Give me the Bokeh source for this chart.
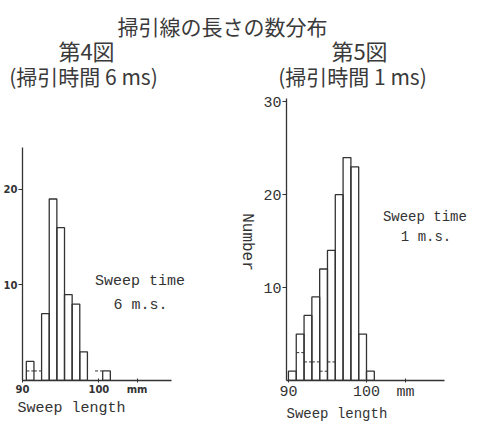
import math
from bokeh.plotting import figure
from bokeh.layouts import column, row
from bokeh.models import Range1d, FixedTicker, Label, Title
from bokeh.embed import file_html
from bokeh.resources import INLINE
from bokeh.core.properties import value

# ---------------- data ----------------
main_title = "掃引線の長さの数分布"
fig4_title = "第4図"
fig4_sub = "(掃引時間 6 ms)"
fig5_title = "第5図"
fig5_sub = "(掃引時間 1 ms)"

# Fig.4  sweep time 6 ms  (1 mm bins, left edges)
f4_bin_left = [90.5, 91.5, 92.5, 93.5, 94.5, 95.5, 96.5, 97.5, 98.5, 99.5, 100.5]
f4_count = [2, 0, 7, 19, 16, 9, 8, 3, 0, 0, 1]
f4_inner = [1, 1, 0, 0, 0, 0, 0, 0, 0, 1, 0]      # dashed sub-counts
# Fig.5  sweep time 1 ms
f5_bin_left = [90, 91, 92, 93, 94, 95, 96, 97, 98, 99, 100]
f5_count = [1, 5, 7, 9, 12, 14, 20, 24, 23, 5, 1]
f5_inner = [0, 3, 2, 2, 1, 2, 0, 0, 0, 0, 0]

f4_yticks = [10, 20]
f5_yticks = [10, 20, 30]
x_ticks = [90, 100, 105]
x_tick_labels = {90: "90", 100: "100", 105: "mm"}

INK = "#333333"
BIN_W = 1.0
MONO = "Liberation Mono"


def base_fig(width, height, xr, yr, mbl):
    p = figure(width=width, height=height, x_range=Range1d(*xr), y_range=Range1d(*yr),
               output_backend="svg", toolbar_location=None,
               min_border_left=mbl, min_border_top=0, min_border_right=0,
               min_border_bottom=0)
    p.grid.visible = False
    p.outline_line_color = None
    p.background_fill_color = "white"
    p.border_fill_color = "white"
    return p


def draw_hist(p, lefts, counts, inner):
    L = [l for l, c in zip(lefts, counts) if c > 0]
    C = [c for c in counts if c > 0]
    p.quad(left=L, right=[l + BIN_W for l in L], bottom=0, top=C,
           fill_color=None, line_color=INK, line_width=1.3)
    IL = [l for l, c in zip(lefts, inner) if c > 0]
    IC = [c for c in inner if c > 0]
    p.segment(x0=IL, x1=[l + BIN_W for l in IL], y0=IC, y1=IC,
              line_color=INK, line_width=1, line_dash="3 2")


def style_axes(p, yticks, font, size, bold, xbounds, ybounds, label_size, label_offset):
    p.xaxis.ticker = FixedTicker(ticks=x_ticks)
    p.xaxis.major_label_overrides = x_tick_labels
    p.yaxis.ticker = FixedTicker(ticks=yticks)
    p.xaxis.bounds = xbounds
    p.yaxis.bounds = ybounds
    for ax in (p.xaxis[0], p.yaxis[0]):
        ax.axis_line_color = INK
        ax.axis_line_width = 1.3
        ax.major_tick_line_color = INK
        ax.minor_tick_line_color = None
        ax.major_label_text_font = font
        ax.major_label_text_font_size = size
        ax.major_label_text_color = INK
        ax.major_label_text_font_style = "bold" if bold else "normal"
        ax.major_label_standoff = 1
    p.yaxis.major_tick_out = 4
    p.yaxis.major_tick_in = 0
    p.xaxis.major_tick_out = 2
    p.xaxis.major_tick_in = 2
    p.add_layout(Title(text="Sweep length", align="left", offset=label_offset, standoff=0,
                       text_font=MONO, text_font_size=label_size, text_font_style="normal",
                       text_color=INK), "below")


# ---------------- header ----------------
top = figure(width=478, height=92, x_range=Range1d(0, 478), y_range=Range1d(0, 92),
             output_backend="svg", toolbar_location=None,
             x_axis_type=None, y_axis_type=None, min_border=0)
top.grid.visible = False
top.outline_line_color = None
hdr_text = [main_title, fig4_title, fig4_sub, fig5_title, fig5_sub]
hdr_x = [222, 86, 83, 359, 352]
hdr_y = [67, 43, 17, 43, 17]
hdr_size = ["21px", "22px", "21px", "22px", "21px"]
top.text(x=hdr_x, y=hdr_y, text=hdr_text, text_font_size=hdr_size,
         text_font=value("Noto Sans CJK JP"), text_color="#3a3a3a",
         text_align="center", text_baseline="middle")

# ---------------- Fig.4 ----------------
p4 = base_fig(258, 329, (90, 120.9), (0, 30.15), 20)
draw_hist(p4, f4_bin_left, f4_count, f4_inner)
style_axes(p4, f4_yticks, "DejaVu Sans", "10px", True, (90, 109.5), (0, 24.4), "15px", -5)
p4.add_layout(Label(x=99.5, y=10.4, text="Sweep time", text_font=MONO,
                    text_font_size="15px", text_color=INK, text_baseline="middle"))
p4.add_layout(Label(x=101.9, y=7.9, text="6 m.s.", text_font=MONO,
                    text_font_size="15px", text_color=INK, text_baseline="middle"))
# y-axis title of Fig.5 sits just left of its axis (inside this frame)
p4.add_layout(Label(x=119.35, y=14.5, text="Number", angle=-math.pi / 2,
                    text_font=MONO, text_font_size="16px", text_color=INK,
                    text_align="center", text_baseline="middle"))

# ---------------- Fig.5 ----------------
p5 = base_fig(220, 329, (89.75, 114.35), (0, 31.0), 28)
draw_hist(p5, f5_bin_left, f5_count, f5_inner)
style_axes(p5, f5_yticks, MONO, "15px", False, (89.75, 110), (0, 30.4), "14px", 0)
p5.add_layout(Label(x=102.1, y=17.6, text="Sweep time", text_font=MONO,
                    text_font_size="14px", text_color=INK, text_baseline="middle"))
p5.add_layout(Label(x=104.4, y=15.5, text="1 m.s.", text_font=MONO,
                    text_font_size="14px", text_color=INK, text_baseline="middle"))

layout = column(top, row(p4, p5))
open("out.html", "w").write(file_html(layout, INLINE))
